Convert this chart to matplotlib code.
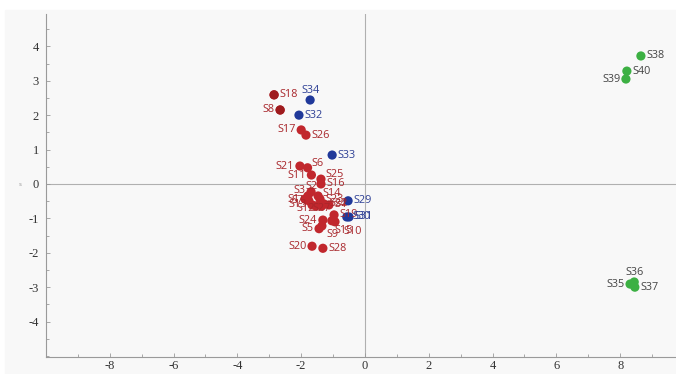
import matplotlib.pyplot as plt
from matplotlib.patches import Rectangle
from matplotlib.ticker import MultipleLocator
import numpy as np

plt.rcParams["axes.unicode_minus"] = False

# score values
red_names = ["S18", "S8", "S17", "S26", "S21", "S6", "S11", "S25", "S16",
             "S2", "S3", "S1", "S7", "S14", "S23", "S22", "S4", "S13", "S12",
             "S27", "S19", "S10", "S15", "S24", "S9", "S5", "S20", "S28"]
red_x = [-2.85, -2.66, -2.00, -1.85, -2.04, -1.80, -1.68, -1.38, -1.38,
         -1.69, -1.79, -1.88, -1.76, -1.47, -1.41, -1.29, -1.13, -1.66, -1.54,
         -1.35, -0.97, -0.94, -1.04, -1.32, -1.35, -1.44, -1.66, -1.32]
red_y = [2.59, 2.15, 1.57, 1.42, 0.52, 0.47, 0.26, 0.14, 0.00,
         -0.23, -0.35, -0.44, -0.49, -0.35, -0.44, -0.58, -0.61, -0.61, -0.64,
         -0.64, -0.90, -1.10, -1.07, -1.05, -1.22, -1.30, -1.81, -1.87]

blue_names = ["S34", "S32", "S33", "S29", "S30", "S31"]
blue_x = [-1.72, -2.07, -1.03, -0.53, -0.57, -0.50]
blue_y = [2.44, 2.00, 0.84, -0.49, -0.96, -0.96]

green_names = ["S38", "S40", "S39", "S36", "S35", "S37"]
green_x = [8.65, 8.21, 8.18, 8.44, 8.31, 8.46]
green_y = [3.72, 3.28, 3.05, -2.85, -2.91, -3.00]

# label offsets (points) and alignment
left = {"S8", "S17", "S21", "S11", "S3", "S7", "S13", "S12", "S24", "S5",
        "S20", "S39", "S35", "S1"}
above = {"S34": (0, 7), "S36": (0, 7), "S6": (3, 3), "S25": (3, 3),
         "S2": (0, 4), "S3": (-2, 4), "S14": (3, 2), "S27": (0, -2),
         "S9": (3, -6), "S15": (2, -7), "S10": (6, -7), "S12": (-1, -2)}

fig = plt.figure(figsize=(6.76, 3.74), dpi=100)
fig.patches.append(Rectangle((5 / 676, 0), 1, 1 - 10 / 374,
                             transform=fig.transFigure, color="#f8f8f8", zorder=-5))
ax = fig.add_axes([46 / 676, 17 / 374, 630 / 676, 343 / 374])
ax.set_zorder(2)
ax.set_facecolor("none")
ax.set_xlim(-10.0, 9.75)
ax.set_ylim(-5.03, 4.94)

ax.axhline(0, color="#b0b0b0", lw=0.8, zorder=1)
ax.axvline(0, color="#b0b0b0", lw=0.8, zorder=1)

def draw(names, xs, ys, color, tcolor):
    ax.scatter(xs, ys, s=44, color=color, edgecolors="none", zorder=3)
    for n, x, y in zip(names, xs, ys):
        if n in above:
            dx, dy = above[n]
            ha = "center" if dx == 0 else ("left" if dx > 0 else "right")
        elif n in left:
            dx, dy, ha = -4, 0, "right"
        else:
            dx, dy, ha = 4, 0, "left"
        ax.annotate(n, (x, y), xytext=(dx, dy), textcoords="offset points",
                    ha=ha, va="center", fontsize=7.8, color=tcolor,
                    family="Open Sans", zorder=4)

draw(red_names, red_x, red_y, "#c1272d", "#a8262b")
ax.scatter(red_x[:2], red_y[:2], s=44, color="#9e1b1e", edgecolors="none", zorder=3)
draw(blue_names, blue_x, blue_y, "#20399a", "#2d3f95")
draw(green_names, green_x, green_y, "#3cb043", "#444444")

for s in ["top", "right"]:
    ax.spines[s].set_visible(False)
for s in ["left", "bottom"]:
    ax.spines[s].set_color("#9a9a9a")
    ax.spines[s].set_linewidth(0.8)

ax.xaxis.set_major_locator(MultipleLocator(2))
ax.xaxis.set_minor_locator(MultipleLocator(1))
ax.yaxis.set_major_locator(MultipleLocator(1))
ax.yaxis.set_minor_locator(MultipleLocator(0.5))
ax.set_xticks(np.arange(-8, 9, 2))
ax.set_yticks(np.arange(-4, 5, 1))
ax.tick_params(which="both", direction="in", color="#9a9a9a", width=0.6)
ax.tick_params(which="major", length=3, labelsize=9, labelcolor="#333333")
ax.tick_params(axis="x", which="major", pad=2)
ax.tick_params(axis="y", which="major", pad=5)
ax.tick_params(which="minor", length=2)
for lab in ax.get_xticklabels() + ax.get_yticklabels():
    lab.set_family("Liberation Serif")

fig.text(20 / 676, 1 - 184 / 374, "s", fontsize=4, color="#999999",
         ha="center", va="center")

fig.savefig("out.png", dpi=100, facecolor="white")
